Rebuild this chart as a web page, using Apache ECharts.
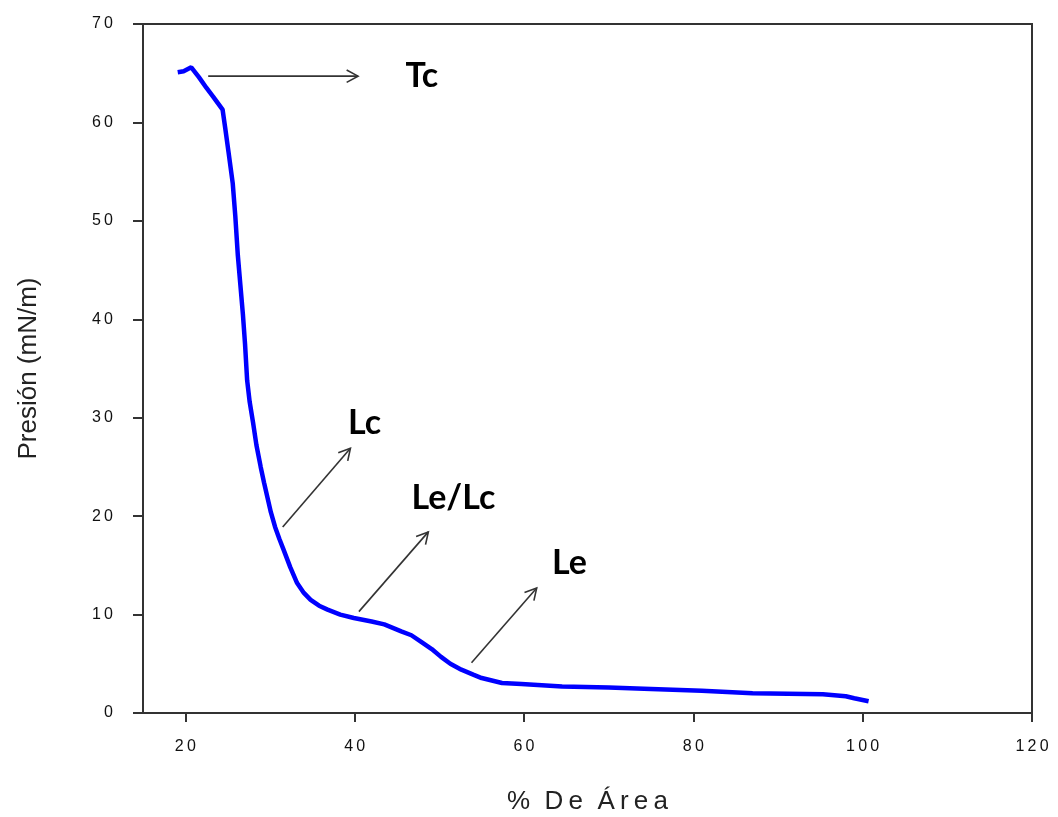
<!DOCTYPE html>
<html>
<head>
<meta charset="utf-8">
<script src="https://cdn.jsdelivr.net/npm/echarts@6/dist/echarts.min.js"></script>
<style>
  html, body { margin: 0; padding: 0; background: #fff; }
  #chart { width: 1058px; height: 817px; }
</style>
</head>
<body>
<div id="chart"></div>
<script>
// isotherm: % area vs pressure (mN/m)
var areaPct = [19.1, 19.8, 20.7, 21.6, 22.5, 23.3, 24.4, 24.7, 25.1, 25.6, 25.9, 26.2, 26.5, 26.8, 27.05,
    27.3, 27.6, 28.0, 28.4, 28.9, 29.3, 29.7, 30.1, 30.6, 31.1, 31.6, 32.4, 33.2, 34.0, 34.8, 35.8,
    36.8, 38.3, 39.9, 42.0, 43.5, 45.5, 46.7, 47.9, 49.1, 50.2, 51.3, 52.6, 54.0, 55.0, 56.2, 57.4,
    59.7, 64.5, 70.0, 75.0, 81.0, 87.0, 95.3, 98.0, 99.0, 100.7];
var pressure = [65.1, 65.2, 65.6, 64.6, 63.5, 62.6, 61.3, 59.5, 57.0, 53.8, 50.5, 46.5, 43.5, 40.5, 37.5,
    33.8, 31.6, 29.5, 27.2, 25.0, 23.4, 21.9, 20.4, 18.9, 17.7, 16.6, 14.8, 13.2, 12.2, 11.5, 10.9,
    10.5, 10.0, 9.65, 9.3, 9.0, 8.3, 7.9, 7.2, 6.5, 5.7, 5.0, 4.4, 3.9, 3.55, 3.3, 3.05,
    2.95, 2.7, 2.6, 2.45, 2.25, 2.0, 1.9, 1.7, 1.5, 1.2];

var xTicks = [20, 40, 60, 80, 100, 120];

// annotations: label, arrow start, arrow end, text anchor (data coords)
var notes = [
    {text: 'Tc',    from: [22.7, 64.7], to: [40.4, 64.7], at: [46.0, 64.7]},
    {text: 'Lc',    from: [31.5, 18.9], to: [39.5, 26.9], at: [39.2, 29.5]},
    {text: 'Le/Lc', from: [40.5, 10.3], to: [48.7, 18.4], at: [46.7, 21.8]},
    {text: 'Le',    from: [53.8, 5.1],  to: [61.5, 12.7], at: [63.3, 15.2]}
];

function spaced(s) {
    return String(s).split('').join('\u2009');
}

var points = areaPct.map(function (x, i) { return [x, pressure[i]]; });

var myChart = echarts.init(document.getElementById('chart'));
var axisColor = '#333';
var option = {
    backgroundColor: '#fff',
    animation: false,
    grid: {
        left: 143,
        right: 26,
        top: 24,
        bottom: 104,
        outerBoundsMode: 'none',
        show: true,
        borderColor: axisColor,
        borderWidth: 2
    },
    xAxis: {
        type: 'value',
        min: 15,
        max: 120,
        name: spaced('%') + '  ' + spaced('De') + '  ' + spaced('Área'),
        nameLocation: 'middle',
        nameGap: 76,
        nameTextStyle: {fontFamily: 'Liberation Sans', fontSize: 26, color: '#222'},
        axisLine: {lineStyle: {color: axisColor, width: 2}},
        axisTick: {show: true, length: 9, lineStyle: {color: axisColor, width: 2}, customValues: xTicks},
        axisLabel: {
            margin: 26,
            fontFamily: 'Liberation Sans',
            fontSize: 16,
            color: '#111',
            customValues: xTicks,
            formatter: function (v) { return spaced(v); }
        },
        splitLine: {show: false}
    },
    yAxis: {
        type: 'value',
        min: 0,
        max: 70,
        interval: 10,
        name: 'Presión (mN/m)',
        nameLocation: 'middle',
        nameGap: 101,
        nameRotate: 90,
        nameTextStyle: {fontFamily: 'Liberation Sans', fontSize: 26, color: '#222'},
        axisLine: {show: true, lineStyle: {color: axisColor, width: 2}},
        axisTick: {show: true, length: 10, lineStyle: {color: axisColor, width: 2}},
        axisLabel: {
            margin: 30,
            fontFamily: 'Liberation Sans',
            fontSize: 16,
            color: '#111',
            formatter: function (v) { return spaced(v); }
        },
        splitLine: {show: false}
    },
    series: [{
        type: 'line',
        data: points,
        showSymbol: false,
        lineStyle: {color: '#0000ff', width: 4.5},
        itemStyle: {color: '#0000ff'}
    }]
};
myChart.setOption(option);

// arrows and labels placed from data coordinates
var els = [];
notes.forEach(function (n) {
    var p1 = myChart.convertToPixel({gridIndex: 0}, n.from);
    var p2 = myChart.convertToPixel({gridIndex: 0}, n.to);
    var pt = myChart.convertToPixel({gridIndex: 0}, n.at);
    var ang = Math.atan2(p2[1] - p1[1], p2[0] - p1[0]);
    var h = 13, spread = 0.5;
    var a1 = [p2[0] - h * Math.cos(ang - spread), p2[1] - h * Math.sin(ang - spread)];
    var a2 = [p2[0] - h * Math.cos(ang + spread), p2[1] - h * Math.sin(ang + spread)];
    els.push({
        type: 'line',
        shape: {x1: p1[0], y1: p1[1], x2: p2[0], y2: p2[1]},
        style: {stroke: '#333', lineWidth: 1.6}
    });
    els.push({
        type: 'polyline',
        shape: {points: [a1, p2, a2]},
        style: {stroke: '#333', lineWidth: 1.6, fill: null}
    });
    els.push({
        type: 'text',
        x: pt[0],
        y: pt[1],
        style: {
            text: n.text,
            fill: '#000',
            font: 'bold 34px Lato',
            verticalAlign: 'middle'
        }
    });
});
myChart.setOption({graphic: els});
</script>
</body>
</html>
